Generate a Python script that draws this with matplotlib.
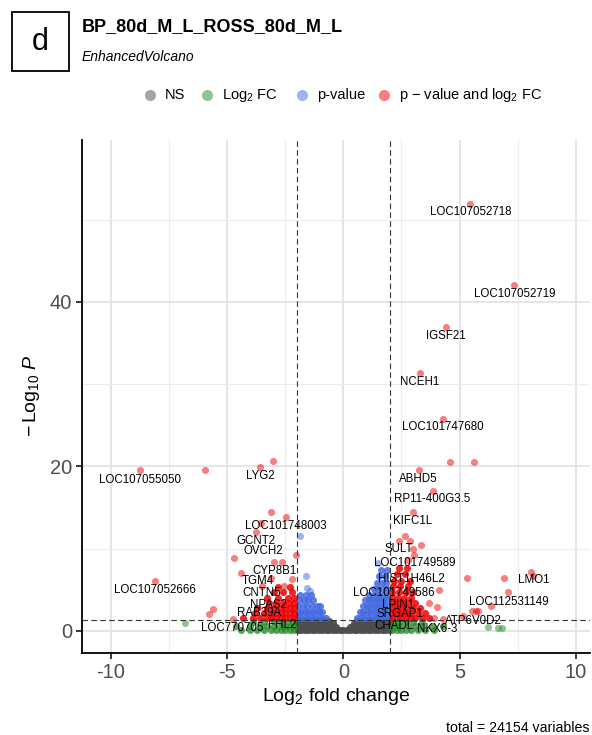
import matplotlib
matplotlib.use("Agg")
import matplotlib.pyplot as plt
from matplotlib.lines import Line2D
from matplotlib.patches import Rectangle

plt.rcParams['font.family'] = ['Liberation Sans', 'DejaVu Sans']
plt.rcParams['mathtext.fontset'] = 'custom'
plt.rcParams['mathtext.rm'] = 'Liberation Sans'
plt.rcParams['mathtext.it'] = 'Liberation Sans:italic'
plt.rcParams['mathtext.bf'] = 'Liberation Sans:bold'

# ---- data (log2FC, -log10 P) ----
# NS (grey): |FC| < 2 and P above cutoff -- one dense mass
ns_x = [-1.95, -1.8, -1.65, -1.5, -1.35, -1.2, -1.05, -0.9, -0.75, -0.6, -0.45, -0.3, -0.15, 0.0,
        0.15, 0.3, 0.45, 0.6, 0.75, 0.9, 1.05, 1.2, 1.35, 1.5, 1.65, 1.8, 1.95,
        -1.95, -1.8, -1.65, -1.5, -1.35, -1.2, -1.05, -0.9, -0.75, -0.6, -0.45, -0.3,
        0.3, 0.45, 0.6, 0.75, 0.9, 1.05, 1.2, 1.35, 1.5, 1.65, 1.8, 1.95,
        -1.95, -1.8, -1.65, -1.5, -1.35, -1.2, -1.05, -0.9, -0.75, -0.6, -0.45,
        0.45, 0.6, 0.75, 0.9, 1.05, 1.2, 1.35, 1.5, 1.65, 1.8, 1.95,
        -1.95, -1.8, -1.65, -1.5, -1.35, -1.2, -1.05, -0.9, -0.75, -0.6,
        0.6, 0.75, 0.9, 1.05, 1.2, 1.35, 1.5, 1.65, 1.8, 1.95]
ns_y = [0.05] * 27 + [0.45] * 24 + [0.9] * 22 + [1.2] * 20

# Log2 FC only (green): dense part, then lone points
fc_x = [-2.1, -2.3, -2.5, -2.7, -2.9, -3.1, -3.4, -3.7, -4.0, -4.4,
        -2.1, -2.3, -2.5, -2.7, -3.0, -3.3, -3.6, -4.0, -4.6,
        -2.15, -2.4, -2.7, -3.0, -3.4, -3.9,
        2.1, 2.3, 2.5, 2.7, 2.9, 3.2, 3.5, 3.9,
        2.1, 2.3, 2.5, 2.8, 3.1, 3.4, 3.8, 4.3,
        2.15, 2.4, 2.7, 3.0, 3.4]
fc_y = [0.1] * 10 + [0.6] * 9 + [1.1] * 6 + \
       [0.1] * 8 + [0.6] * 8 + [1.1] * 5
fc_lone_x = [-6.81, 6.24, 6.64, 6.81]
fc_lone_y = [0.9, 0.4, 0.3, 0.3]

# p-value only (blue)
pv_x = [-1.95, -1.8, -1.65, -1.5, -1.35, -1.2, -1.05, -0.9, -0.75,
        -1.95, -1.8, -1.65, -1.5, -1.35, -1.2, -1.05, -0.9,
        -1.95, -1.75, -1.55, -1.35, -1.15, -1.0,
        -1.9, -1.7, -1.5, -1.3,
        -1.85, -1.6, -1.4,
        0.6, 0.75, 0.9, 1.05, 1.2, 1.35, 1.5, 1.65, 1.8, 1.95,
        0.7, 0.85, 1.0, 1.15, 1.3, 1.45, 1.6, 1.75, 1.9,
        0.85, 1.0, 1.15, 1.3, 1.45, 1.6, 1.75, 1.9,
        0.95, 1.1, 1.25, 1.4, 1.55, 1.7, 1.85,
        1.1, 1.3, 1.5, 1.7, 1.9,
        1.3, 1.5, 1.7, 1.9,
        1.45, 1.65, 1.85,
        1.55, 1.8,
        1.6, 1.9]
pv_y = [1.6] * 9 + [2.3] * 8 + [3.0] * 6 + [3.7] * 4 + [4.3] * 3 + \
       [1.6] * 10 + [2.3] * 9 + [3.0] * 8 + [3.7] * 7 + [4.4] * 5 + \
       [5.1] * 4 + [5.8] * 3 + [6.6] * 2 + [7.4] * 2
pv_lone_x = [-1.86, -1.6, -1.57, -1.45, 1.5]
pv_lone_y = [11.5, 6.6, 5.2, 4.8, 8.2]

# p-value and log2 FC (red)
both_x = [-2.1, -2.3, -2.5, -2.7, -2.9, -3.1, -3.3, -3.6, -3.9, -4.3,
          -2.1, -2.3, -2.5, -2.7, -2.9, -3.1, -3.4, -3.8,
          -2.1, -2.3, -2.5, -2.7, -3.0, -3.3, -3.7,
          -2.1, -2.35, -2.6, -2.9, -3.2,
          -2.1, -2.4, -2.8, -3.3,
          -2.2, -2.6, -3.0,
          -2.3, -2.8,
          2.1, 2.3, 2.5, 2.7, 2.9, 3.1, 3.4, 3.7,
          2.1, 2.3, 2.5, 2.7, 2.9, 3.2, 3.5,
          2.1, 2.3, 2.5, 2.7, 3.0, 3.3,
          2.1, 2.3, 2.55, 2.8, 3.1,
          2.1, 2.35, 2.6, 2.9,
          2.1, 2.4, 2.7, 3.0,
          2.15, 2.45, 2.8,
          2.2, 2.5, 2.85,
          2.3, 2.65,
          2.4, 2.75]
both_y = [1.6] * 10 + [2.2] * 8 + [2.8] * 7 + [3.4] * 5 + [4.0] * 4 + [4.7] * 3 + [5.3] * 2 + \
         [1.6] * 8 + [2.2] * 7 + [2.8] * 6 + [3.4] * 5 + [4.0] * 4 + [4.7] * 4 + \
         [5.4] * 3 + [6.1] * 3 + [6.9] * 2 + [7.6] * 2
both_lone_x = [-5.96, -8.74, -3.58, -3.01, -3.12, -2.48, -3.54, -3.77, -2.03, -4.70,
               -2.97, -2.64, -4.40, -2.21, -8.10, -3.11, -3.51, -2.55, -5.62, -5.76, -4.76,
               5.46, 7.36, 4.40, 3.31, 4.29, 4.6, 5.62, 3.24, 3.87, 2.98,
               2.67, 2.40, 2.87, 3.33, 2.98, 3.05, 2.80, 8.06, 8.14, 5.33,
               6.93, 7.10, 6.35, 4.04, 4.12, 3.69, 5.52, 5.69, 5.81, 5.13, 3.90, 4.30]
both_lone_y = [19.6, 19.5, 19.9, 20.6, 14.5, 13.8, 13.1, 12.0, 9.2, 8.8,
               8.3, 8.3, 7.0, 6.3, 6.1, 6.4, 5.5, 5.5, 2.6, 2.0, 1.4,
               51.9, 42.1, 36.9, 31.3, 25.8, 20.5, 20.5, 19.6, 17.0, 14.4,
               11.5, 10.9, 10.9, 10.4, 9.9, 9.2, 8.6, 7.2, 6.6, 6.4,
               6.4, 4.7, 3.0, 2.9, 5.0, 3.4, 2.4, 2.4, 2.4, 1.8, 1.5, 1.4]

# gene labels and where they sit
lab_names = ['LOC107052718', 'LOC107052719', 'IGSF21', 'NCEH1', 'LOC101747680',
             'ABHD5', 'RP11-400G3.5', 'KIFC1L', 'LYG2', 'LOC107055050',
             'LOC101748003', 'GCNT2', 'OVCH2', 'CYP8B1', 'TGM4', 'LOC107052666',
             'CNTN5', 'NPAS2', 'RAB39A', 'LOC770705', 'FHL2',
             'SULT', 'LOC101749589', 'HIST1H46L2', 'LOC101749586', 'LPIN1',
             'SRGAP1', 'CHADL', 'NKX6-3', 'ATP6V0D2', 'LOC112531149', 'LMO1']
lab_x = [5.48, 7.36, 4.40, 3.30, 4.30,
         3.23, 3.84, 2.98, -3.58, -8.74,
         -2.48, -3.77, -3.44, -2.97, -3.68, -8.10,
         -3.51, -3.22, -3.61, -4.80, -2.61,
         2.37, 3.08, 2.94, 2.18, 2.37,
         2.44, 2.18, 4.02, 5.59, 7.10, 8.20]
lab_y = [50.9, 41.0, 35.9, 30.2, 24.8,
         18.5, 16.0, 13.3, 18.8, 18.3,
         12.7, 10.9, 9.7, 7.3, 6.0, 4.95,
         4.55, 3.1, 2.1, 0.3, 0.7,
         9.9, 8.2, 6.25, 4.55, 3.1,
         2.0, 0.6, 0.2, 1.2, 3.5, 6.2]

fc_cut = 2
p_cut = 1.30103  # -log10(0.05)

col_ns = '#4D4D4D'
col_fc = '#228B22'
col_pv = '#4169E1'
col_both = '#EE0000'
pt = 26

fig = plt.figure(figsize=(5.92, 7.35), dpi=100)
ax = fig.add_axes([82 / 592, 82 / 735, 508 / 592, 513 / 735])

# dense masses stand for thousands of overlapping points, so they are nearly opaque
ax.scatter(ns_x, ns_y, s=pt, color=col_ns, alpha=0.95, linewidths=0, zorder=3)
ax.scatter(fc_x, fc_y, s=pt, color=col_fc, alpha=0.75, linewidths=0, zorder=3)
ax.scatter(fc_lone_x, fc_lone_y, s=pt, color=col_fc, alpha=0.5, linewidths=0, zorder=3)
ax.scatter(pv_x, pv_y, s=pt, color=col_pv, alpha=0.85, linewidths=0, zorder=3)
ax.scatter(pv_lone_x, pv_lone_y, s=pt, color=col_pv, alpha=0.5, linewidths=0, zorder=3)
ax.scatter(both_x, both_y, s=pt, color=col_both, alpha=0.85, linewidths=0, zorder=3)
ax.scatter(both_lone_x, both_lone_y, s=pt, color=col_both, alpha=0.5, linewidths=0, zorder=3)

for name, x, y in zip(lab_names, lab_x, lab_y):
    ax.text(x, y, name, fontsize=8.3, ha='center', va='center', color='black', zorder=5)

ax.axvline(-fc_cut, color='#333333', lw=0.8, ls=(0, (5, 3)), zorder=4)
ax.axvline(fc_cut, color='#333333', lw=0.8, ls=(0, (5, 3)), zorder=4)
ax.axhline(p_cut, color='#333333', lw=0.8, ls=(0, (5, 3)), zorder=4)

ax.set_xlim(-11.24, 10.61)
ax.set_ylim(-2.71, 59.7)
ax.set_xticks([-10, -5, 0, 5, 10])
ax.set_xticklabels(['-10', '-5', '0', '5', '10'])
ax.set_xticks([-7.5, -2.5, 2.5, 7.5], minor=True)
ax.set_yticks([0, 20, 40])
ax.set_yticks([10, 30, 50], minor=True)
ax.grid(True, which='major', color='#E3E3E3', lw=1.3, zorder=0)
ax.grid(True, which='minor', color='#EDEDED', lw=0.8, zorder=0)
ax.set_axisbelow(True)

for s in ['top', 'right']:
    ax.spines[s].set_visible(False)
for s in ['left', 'bottom']:
    ax.spines[s].set_linewidth(1.3)
ax.tick_params(which='major', direction='out', length=4, width=1.1, labelsize=14.5,
               labelcolor='#4D4D4D', pad=3)
ax.tick_params(which='minor', length=0)

ax.set_xlabel(r'$\mathrm{Log}_{2}$ fold change', fontsize=14, labelpad=3)
ax.set_ylabel(r'$-\,\mathrm{Log}_{10}\;\mathit{P}$', fontsize=14, labelpad=6)

# panel letter box, title, subtitle
fig.add_artist(Rectangle((12 / 592, 1 - 71 / 735), 57 / 592, 59 / 735, transform=fig.transFigure,
                         fill=False, edgecolor='black', lw=1.3))
fig.text(40.5 / 592, 1 - 42 / 735, 'd', fontsize=22, ha='center', va='center')
fig.text(82 / 592, 1 - 27 / 735, 'BP_80d_M_L_ROSS_80d_M_L', fontsize=13, fontweight='bold',
         ha='left', va='center')
fig.text(82 / 592, 1 - 57 / 735, 'EnhancedVolcano', fontsize=10, style='italic',
         ha='left', va='center')

# legend row
leg_y = 1 - 95 / 735
leg_items = [(150, 'NS', col_ns), (207, r'$\mathrm{Log}_{2}$ FC', col_fc),
             (302, 'p-value', col_pv), (384, r'p $-$ value and $\mathrm{log}_{2}$ FC', col_both)]
for mx, lbl, col in leg_items:
    fig.add_artist(Line2D([mx / 592], [leg_y], marker='o', markersize=8, linestyle='none',
                          color=col, alpha=0.5, markeredgewidth=0, transform=fig.transFigure))
    fig.text((mx + 15) / 592, leg_y, lbl, fontsize=10.5, ha='left', va='center')

fig.text(590 / 592, 1 - 728 / 735, 'total = 24154 variables', fontsize=10.2,
         ha='right', va='center')

fig.savefig('out.png', dpi=100)
